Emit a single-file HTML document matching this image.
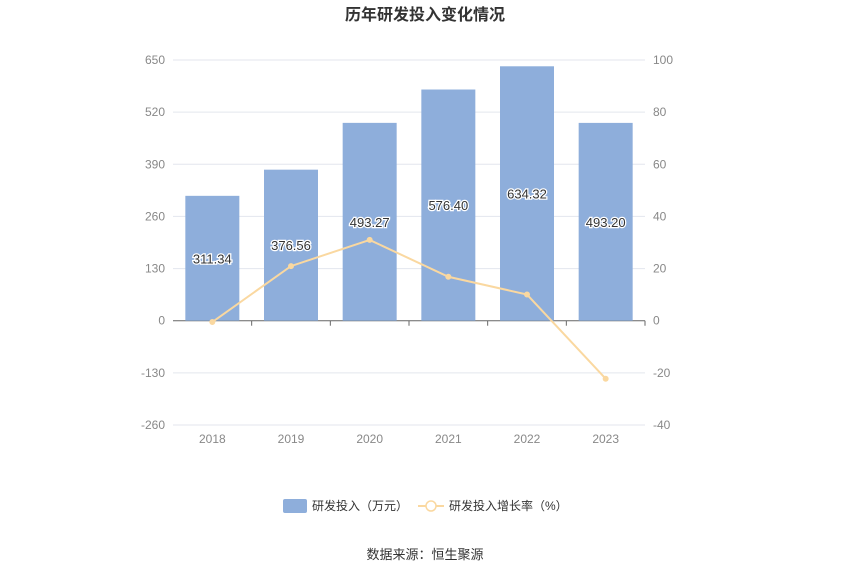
<!DOCTYPE html>
<html><head><meta charset="utf-8"><style>
body{margin:0;background:#fff;font-family:"Liberation Sans","Noto Sans CJK SC",sans-serif;}
</style></head><body>
<svg width="850" height="575" xmlns="http://www.w3.org/2000/svg" font-family="Liberation Sans, Noto Sans CJK SC, sans-serif">
<text x="425" y="20" text-anchor="middle" font-size="16" font-weight="bold" fill="#333">历年研发投入变化情况</text>
<g id="grid"></g><g id="bars"></g><g id="line"></g><g id="labels"></g>
<g>
<rect x="283" y="499" width="24" height="14" rx="2" fill="#8eaedb"/>
<text x="312" y="510" font-size="12" fill="#333">研发投入（万元）</text>
<line x1="418" y1="506" x2="444" y2="506" stroke="#fad8a0" stroke-width="2"/>
<circle cx="431" cy="506" r="5" fill="#fff" stroke="#fad8a0" stroke-width="1.5"/>
<text x="449" y="510" font-size="12" fill="#333">研发投入增长率（%）</text>
</g>
<text x="425" y="559" text-anchor="middle" font-size="13" fill="#333">数据来源：恒生聚源</text>
</svg>
<script>
const categories=["2018","2019","2020","2021","2022","2023"];
const investment=[311.34,376.56,493.27,576.40,634.32,493.20];
const growth=[-0.5,20.95,30.99,16.85,10.05,-22.25];
const leftTicks=[650,520,390,260,130,0,-130,-260];
const rightTicks=[100,80,60,40,20,0,-20,-40];
const NS="http://www.w3.org/2000/svg";
const x0=173,x1=645,yTop=60,yBot=425;
const yL=v=>yTop+(650-v)*(yBot-yTop)/910;
const yR=v=>yTop+(100-v)*(yBot-yTop)/140;
const band=(x1-x0)/categories.length;
const xC=i=>x0+band*(i+0.5);
function mk(tag,attrs,parent){const e=document.createElementNS(NS,tag);for(const k in attrs)e.setAttribute(k,attrs[k]);document.getElementById(parent).appendChild(e);return e;}
leftTicks.forEach((t,i)=>{
 const y=yL(t);
 const g=mk("line",{x1:x0,x2:x1,y1:y,y2:y,stroke:t===0?"#666":"#e3e6ee","stroke-width":1},"grid");
 
 
 const a=mk("text",{x:x0-8,y:y+4,"text-anchor":"end","font-size":12,fill:"#888"},"grid");a.textContent=t;
 
 
 const b=mk("text",{x:x1+8,y:yR(rightTicks[i])+4,"font-size":12,fill:"#888"},"grid");b.textContent=rightTicks[i];
 
 
});
categories.forEach((c,i)=>{
 const t=mk("text",{x:xC(i),y:yBot+18,"text-anchor":"middle","font-size":12,fill:"#888"},"grid");t.textContent=c;
 
 
 const tk=mk("line",{x1:xC(i)+band/2,x2:xC(i)+band/2,y1:yL(0),y2:yL(0)+5,stroke:"#666"},"grid");
 
 
 const v=investment[i],bw=54;
 const r=mk("rect",{x:xC(i)-bw/2,y:yL(v),width:bw,height:yL(0)-yL(v),fill:"#8eaedb"},"bars");
 
 
 const l=mk("text",{x:xC(i),y:(yL(v)+yL(0))/2+5,"text-anchor":"middle","font-size":13,fill:"#333",stroke:"#fff","stroke-width":2.5,"paint-order":"stroke"},"labels");
 l.textContent=v.toFixed(2);
 
 
});
const pts=growth.map((g,i)=>xC(i)+","+yR(g)).join(" ");
const pl=mk("polyline",{points:pts,fill:"none",stroke:"#fad8a0","stroke-width":2},"line");


growth.forEach((g,i)=>{
 const c=mk("circle",{cx:xC(i),cy:yR(g),r:2.5,fill:"#fad8a0",stroke:"#fad8a0"},"line");
 
 
});
</script>
</body></html>
